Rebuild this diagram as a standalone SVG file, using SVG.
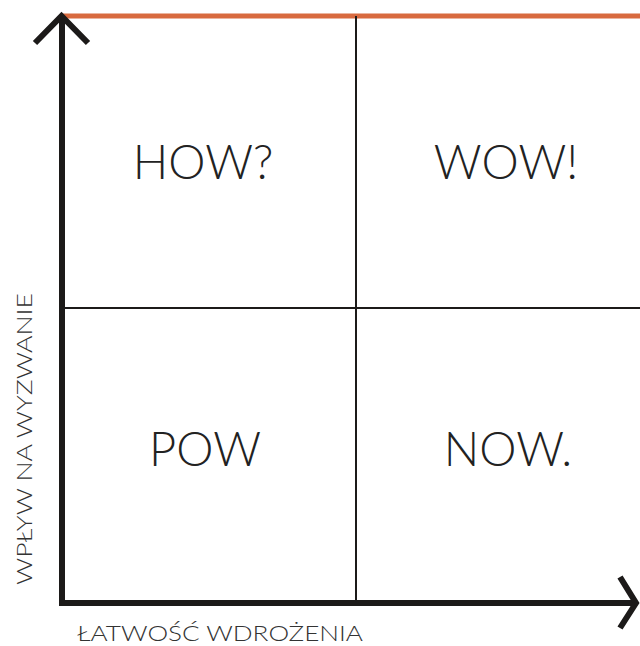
<svg xmlns="http://www.w3.org/2000/svg" width="640" height="646" viewBox="0 0 640 646">
<style>
.axis{stroke:#1c1a19;stroke-width:6;fill:none}
.div{stroke:#1c1a19;stroke-width:2;fill:none}
.big{font-family:Lato,"Liberation Sans",sans-serif;font-weight:300;font-size:47px;fill:#222;text-anchor:middle}
.lab{font-family:Lato,"Liberation Sans",sans-serif;font-weight:300;font-size:22px;fill:#333}
</style>
<rect width="640" height="646" fill="#fff"/>
<g id="connectors">
<line x1="62" y1="16" x2="640" y2="16" stroke="#d86a3f" stroke-width="5"/>
<line class="div" x1="356" y1="16" x2="356" y2="603"/>
<line class="div" x1="62" y1="308" x2="640" y2="308"/>
<line class="axis" x1="62" y1="16" x2="62" y2="606"/>
<line class="axis" x1="59" y1="603" x2="636" y2="603"/>
<polyline class="axis" points="35,43 61.5,16 88,43"/>
<polyline class="axis" points="620,577 636,603 620,628"/>
</g>
<g id="how"><text class="big" x="203" y="179">HOW?</text></g>
<g id="wow"><text class="big" x="506" y="179">WOW!</text></g>
<g id="pow"><text class="big" x="205" y="466">POW</text></g>
<g id="now"><text class="big" x="508" y="466">NOW.</text></g>
<g id="ylabel"><text class="lab" transform="translate(32,585) rotate(-90)" x="0" y="0" textLength="292" lengthAdjust="spacingAndGlyphs">WPŁYW NA WYZWANIE</text></g>
<g id="xlabel"><text class="lab" x="77" y="641" font-size="21" textLength="286" lengthAdjust="spacingAndGlyphs">ŁATWOŚĆ WDROŻENIA</text></g>
</svg>
